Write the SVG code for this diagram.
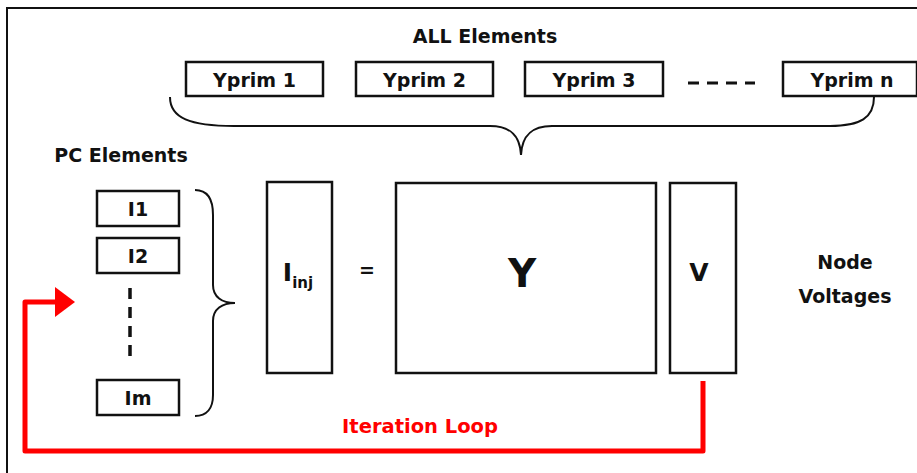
<svg xmlns="http://www.w3.org/2000/svg" width="917" height="473" viewBox="0 0 917 473">
<style>
.box{fill:#fff;stroke:#111;stroke-width:2.5}
.t{font-family:"DejaVu Sans","Verdana",sans-serif;font-weight:bold;fill:#111;text-anchor:middle}
.br{fill:none;stroke:#111;stroke-width:2}
.loop{fill:none;stroke:#ff0000;stroke-width:5;stroke-linejoin:round}
</style>
<defs>
<marker id="ah" markerWidth="6" markerHeight="6" refX="1" refY="3" orient="auto" markerUnits="strokeWidth"><path d="M0,0 L4,3 L0,6 Z" fill="#ff0000"/></marker>
</defs>
<rect x="7" y="8" width="930" height="480" fill="none" stroke="#111" stroke-width="2"/>
<text class="t" x="485" y="43" font-size="19">ALL Elements</text>
<g id="yprim1"><rect class="box" x="186" y="62" width="137" height="34"/><text class="t" x="254.5" y="87" font-size="19">Yprim 1</text></g>
<g id="yprim2"><rect class="box" x="356" y="62" width="137" height="34"/><text class="t" x="424.5" y="87" font-size="19">Yprim 2</text></g>
<g id="yprim3"><rect class="box" x="525" y="62" width="138" height="34"/><text class="t" x="594" y="87" font-size="19">Yprim 3</text></g>
<g id="dots"><line x1="688" y1="83" x2="755" y2="83" stroke="#111" stroke-width="3" stroke-dasharray="11,8"/></g>
<g id="yprimn"><rect class="box" x="783" y="62" width="134" height="34"/><text class="t" x="852" y="87" font-size="19">Yprim n</text></g>
<g id="brace-top"><path class="br" d="M170,97 C170,118 190,126 234,126 L490,126 C510,126 520,135 521,155 C522,135 532,126 552,126 L830,126 C860,126 874,118 874,97"/></g>
<text class="t" x="121" y="162" font-size="19">PC Elements</text>
<g id="i1"><rect class="box" x="97" y="191" width="82" height="35"/><text class="t" x="138" y="216" font-size="19">I1</text></g>
<g id="i2"><rect class="box" x="97" y="238" width="82" height="35"/><text class="t" x="138" y="263" font-size="19">I2</text></g>
<g id="vdots"><line x1="130" y1="288" x2="130" y2="364" stroke="#111" stroke-width="3.5" stroke-dasharray="11,8"/></g>
<g id="im"><rect class="box" x="97" y="380" width="82" height="35"/><text class="t" x="138" y="405" font-size="19">Im</text></g>
<g id="brace-pc"><path class="br" d="M195,190 C208,190 213,200 213,215 L213,285 C213,297 222,303 235,303 C222,303 213,309 213,321 L213,395 C213,408 207,416 195,416"/></g>
<g id="iinj"><rect class="box" x="267" y="182" width="65" height="191"/><text class="t" x="298" y="281" font-size="25">I<tspan font-size="15" dy="7">inj</tspan></text></g>
<text class="t" x="367" y="277" font-size="19">=</text>
<g id="ymat"><rect class="box" x="396" y="183" width="260" height="190"/><text class="t" x="522" y="287" font-size="39">Y</text></g>
<g id="vvec"><rect class="box" x="670" y="183" width="66" height="190"/><text class="t" x="699" y="281" font-size="25">V</text></g>
<text class="t" x="845" y="269" font-size="19">Node</text>
<text class="t" x="845" y="303" font-size="19">Voltages</text>
<g id="connectors">
<path class="loop" d="M703,381 L703,451 L25,451 L25,302 L60,302" marker-end="url(#ah)"/>
</g>
<text x="420" y="433" font-family="DejaVu Sans,Verdana,sans-serif" font-weight="bold" font-size="19.5" fill="#ff0000" text-anchor="middle">Iteration Loop</text>
</svg>
